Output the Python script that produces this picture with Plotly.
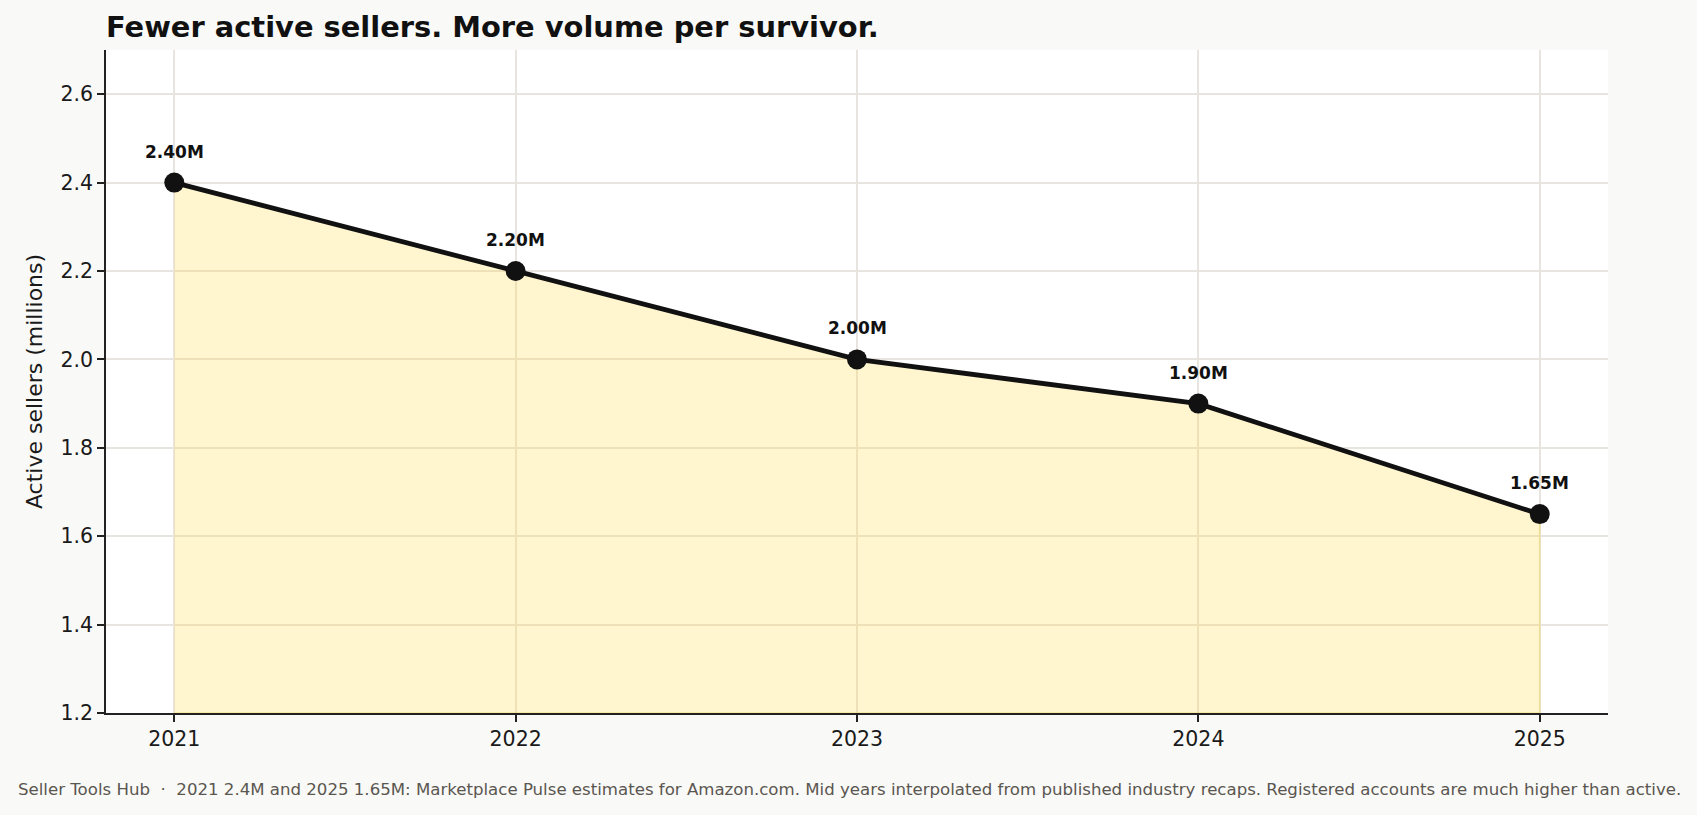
import plotly.graph_objects as go

years = [2021, 2022, 2023, 2024, 2025]
sellers = [2.40, 2.20, 2.00, 1.90, 1.65]
labels = ["2.40M", "2.20M", "2.00M", "1.90M", "1.65M"]
y_ticks = [1.2, 1.4, 1.6, 1.8, 2.0, 2.2, 2.4, 2.6]
y_range = [1.2, 2.7]
x_range = [2020.8, 2025.2]

title = "Fewer active sellers. More volume per survivor."
y_title = "Active sellers (millions)"
footer = ("Seller Tools Hub\u00a0\u00a0·\u00a0\u00a02021 2.4M and 2025 1.65M: Marketplace Pulse estimates for "
          "Amazon.com. Mid years interpolated from published industry recaps. "
          "Registered accounts are much higher than active.")

FONT = "DejaVu Sans"
W, H = 1697, 815
ML, MR, MT, MB = 106, 89, 50, 102

fig = go.Figure()

# filled area under the series, down to the axis floor
fig.add_trace(go.Scatter(
    x=years + [years[-1], years[0]],
    y=sellers + [y_range[0], y_range[0]],
    fill="toself",
    fillcolor="rgba(255,215,64,0.25)",
    line=dict(color="rgba(240,215,110,0.55)", width=1.5),
    mode="lines",
    hoverinfo="skip",
    showlegend=False,
))

fig.add_trace(go.Scatter(
    x=years, y=sellers,
    mode="lines+markers",
    line=dict(color="#111111", width=4.8),
    marker=dict(color="#111111", size=20),
    showlegend=False,
))

for x, y, t in zip(years, sellers, labels):
    fig.add_annotation(
        x=x, y=y, text=f"<b>{t}</b>", showarrow=False,
        xanchor="center", yanchor="middle", yshift=31,
        font=dict(family=FONT, size=17, color="#111111"),
    )

pw = W - ML - MR
ph = H - MT - MB
fig.add_annotation(
    xref="paper", yref="paper",
    x=(16 - ML) / pw, y=(ph - (789.5 - MT)) / ph,
    xanchor="left", yanchor="middle", showarrow=False,
    text=footer,
    font=dict(family=FONT, size=16.6, color="#5a5650"),
)

fig.update_layout(
    width=W, height=H,
    margin=dict(l=ML, r=MR, t=MT, b=MB, autoexpand=False),
    paper_bgcolor="#f9f9f7",
    plot_bgcolor="#ffffff",
    font=dict(family=FONT, size=20, color="#1a1a1a"),
    title=dict(
        text=f"<b>{title}</b>",
        x=ML / W, xanchor="left", xref="container",
        y=1 - 26.7 / H, yanchor="middle", yref="container",
        font=dict(family=FONT, size=28.9, color="#111111"),
    ),
    xaxis=dict(
        range=x_range,
        tickmode="array", tickvals=years, ticktext=[str(y) for y in years],
        showgrid=True, gridcolor="#e8e5e0", gridwidth=1.5,
        showline=True, linecolor="#222222", linewidth=1.5,
        ticks="outside", ticklen=7, tickwidth=1.5, tickcolor="#222222",
        tickfont=dict(family=FONT, size=20.5, color="#1a1a1a"),
        zeroline=False,
    ),
    yaxis=dict(
        range=y_range,
        tickmode="array", tickvals=y_ticks, ticktext=[f"{v:.1f}" for v in y_ticks],
        showgrid=True, gridcolor="#e8e5e0", gridwidth=1.5,
        showline=True, linecolor="#222222", linewidth=1.5,
        ticks="outside", ticklen=7, tickwidth=1.5, tickcolor="#222222",
        tickfont=dict(family=FONT, size=20.5, color="#1a1a1a"),
        title=dict(text=y_title, standoff=12, font=dict(family=FONT, size=22, color="#1a1a1a")),
        zeroline=False,
    ),
)

fig.write_html(
    "out.html",
    config={"displayModeBar": False},
    post_script="document.body.style.margin='0';document.body.style.background='#f9f9f7';",
)
